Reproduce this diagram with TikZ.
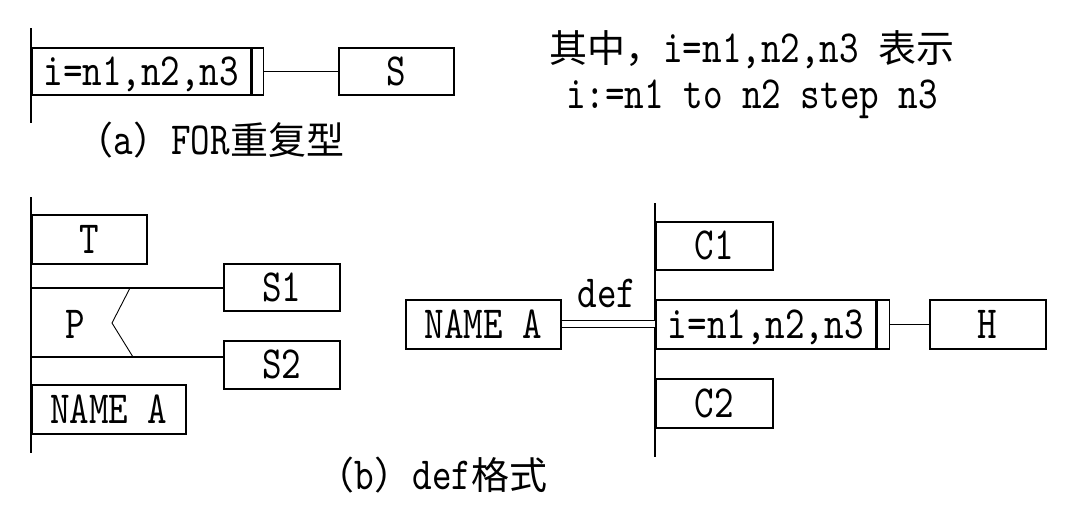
\documentclass[tikz,border=0pt]{standalone}
\usepackage{fontspec}
\newfontfamily\monof[Extension=.otf, FakeStretch=0.81]{lmmono10-regular}
\newfontfamily\cjkf{Noto Sans CJK SC}
\newcommand\zh[1]{{\cjkf\fontsize{38}{40}\selectfont #1}}
\begin{document}
\begin{tikzpicture}[x=1pt,y=-1pt,
  ln/.style={line width=1.5pt},
  thinln/.style={line width=0.9pt},
  box/.style={draw, line width=1.5pt, inner sep=0pt, anchor=north west,
    text height=28pt, text depth=0pt, font=\monof\fontsize{46}{48}\selectfont},
  txt/.style={inner sep=0pt, anchor=base, font=\monof\fontsize{46}{48}\selectfont}]
\useasboundingbox (0,0) rectangle (1090,522);
% ---------- (a)
\coordinate (atop) at (31,28);
\coordinate (abot) at (31,123);
\draw[ln] (atop) -- (abot);
\node[box, minimum width=219pt, minimum height=47pt] (fora) at (31,47) {i=n1,n2,n3};
\node[box, minimum width=11pt, minimum height=47pt] (forabar) at (fora.north east) {};
\node[box, minimum width=115pt, minimum height=47pt] (sa) at (338,47) {S};
\draw[ln] (forabar.east) -- (sa.west);
\node[txt] (capa) at (210,154) {\zh{（}a\zh{）}FOR\zh{重复型}};
% ---------- note
\node[txt] (note1) at (752,62) {\zh{其中，}i=n1,n2,n3 \zh{表示}};
\node[txt] (note2) at (752,108) {i:=n1 to n2 step n3};
% ---------- (b) left
\coordinate (bltop) at (31,197);
\coordinate (blbot) at (31,453);
\draw[ln] (bltop) -- (blbot);
\node[box, minimum width=115pt, minimum height=49pt] (t) at (31,214) {T};
\node[box, minimum width=116pt, minimum height=47pt] (s1) at (223,263) {S1};
\node[box, minimum width=116pt, minimum height=48pt] (s2) at (223,340) {S2};
\node[box, minimum width=154pt, minimum height=49pt] (namel) at (31,384) {NAME A};
\coordinate (p1) at (31,288);
\coordinate (p2) at (31,357);
\draw[ln] (p1) -- (p1 -| s1.west);
\draw[ln] (p2) -- (p2 -| s2.west);
\coordinate (z1) at (130,288);
\coordinate (z2) at (112,323);
\coordinate (z3) at (133,357);
\draw[thinln] (z1) -- (z2) -- (z3);
\node[txt] (p) at (75,338) {P};
% ---------- (b) right
\node[box, minimum width=155pt, minimum height=49pt] (namer) at (405,299) {NAME A};
\coordinate (brtop) at (655,203);
\coordinate (brbot) at (655,457);
\draw[ln] (brtop) -- (brbot);
\node[box, minimum width=117pt, minimum height=48pt] (c1) at (655,221) {C1};
\node[box, minimum width=220pt, minimum height=49pt] (forb) at (655,299) {i=n1,n2,n3};
\node[box, minimum width=12pt, minimum height=49pt] (forbbar) at (forb.north east) {};
\node[box, minimum width=116pt, minimum height=49pt] (h) at (929,299) {H};
\draw[ln] (forbbar.east) -- (h.west);
\node[box, minimum width=117pt, minimum height=49pt] (c2) at (655,378) {C2};
\draw[line width=1.4pt, double, double distance=5.6pt] (namer.east) -- (namer.east -| brtop);
\node[txt] (def) at (607,307) {def};
\node[txt] (capb) at (432,489) {\zh{（}b\zh{）}def\zh{格式}};
\end{tikzpicture}
\end{document}
